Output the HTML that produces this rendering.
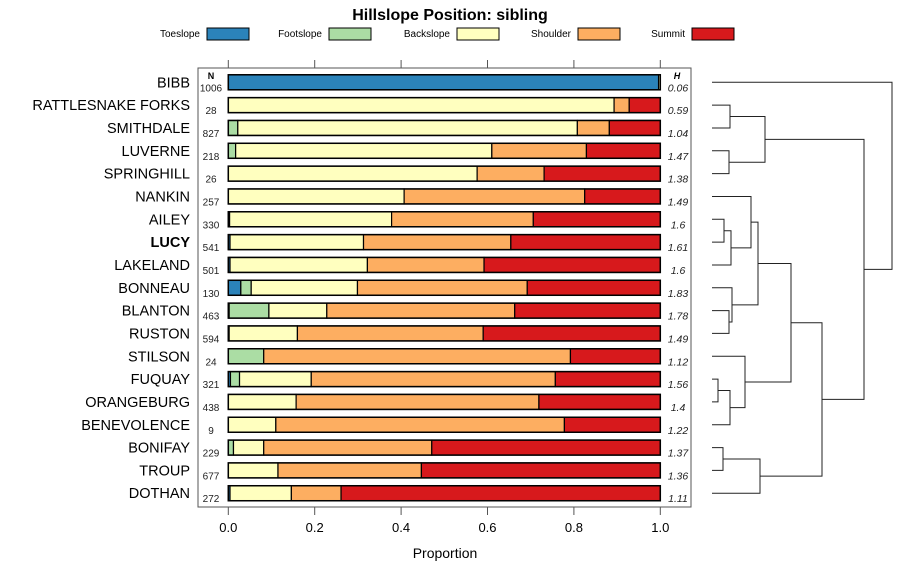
<!DOCTYPE html>
<html><head><meta charset="utf-8">
<style>
body{margin:0;background:#fff;}
svg{display:block;font-family:"Liberation Sans",Arial,sans-serif;}
</style></head>
<body>
<svg id="chart" width="900" height="580" viewBox="0 0 900 580">
<text x="450" y="20" text-anchor="middle" font-size="16" font-weight="bold">Hillslope Position: sibling</text>
<g id="legend"></g>
<rect x="198" y="68" width="493" height="439" fill="none" stroke="#555" stroke-width="1"/>
<g id="axes"></g>
<g id="bars"></g>
<g id="dendro"></g>
<text x="445" y="558" text-anchor="middle" font-size="14">Proportion</text>
</svg>
<script>
const positions = ["Toeslope","Footslope","Backslope","Shoulder","Summit"];
const colors = ["#2b83ba","#abdda4","#ffffbf","#fdae61","#d7191c"];
const soils = ["BIBB","RATTLESNAKE FORKS","SMITHDALE","LUVERNE","SPRINGHILL","NANKIN","AILEY","LUCY","LAKELAND","BONNEAU","BLANTON","RUSTON","STILSON","FUQUAY","ORANGEBURG","BENEVOLENCE","BONIFAY","TROUP","DOTHAN"];
const nVals = [1006,28,827,218,26,257,330,541,501,130,463,594,24,321,438,9,229,677,272];
const hVals = ["0.06","0.59","1.04","1.47","1.38","1.49","1.6","1.61","1.6","1.83","1.78","1.49","1.12","1.56","1.4","1.22","1.37","1.36","1.11"];
const toeslope  = [0.996,0,0,0,0,0,0.003,0.004,0.004,0.029,0.002,0.002,0,0.005,0,0,0,0,0.004];
const footslope = [0,0,0.022,0.017,0,0,0,0,0,0.024,0.092,0,0.082,0.021,0,0,0.012,0,0];
const backslope = [0.004,0.893,0.786,0.593,0.576,0.407,0.375,0.309,0.318,0.246,0.134,0.158,0,0.166,0.157,0.110,0.070,0.115,0.142];
const shoulder  = [0,0.035,0.074,0.219,0.155,0.418,0.328,0.341,0.270,0.393,0.435,0.430,0.710,0.565,0.562,0.668,0.389,0.332,0.115];
const summit    = [0,0.072,0.118,0.171,0.269,0.175,0.294,0.346,0.408,0.308,0.337,0.410,0.208,0.243,0.281,0.222,0.529,0.553,0.739];
const xTicks = [0,0.2,0.4,0.6,0.8,1.0];
const xTickLabels = ["0.0","0.2","0.4","0.6","0.8","1.0"];
// dendrogram merges: [leftId, rightId, height]; leaf ids 0..18, merged ids 19+
const merges = [
 [1,2,18],[3,4,17],[19,20,53],
 [6,7,12],[22,8,19],[5,23,39],
 [10,11,17],[9,25,20],[24,26,46],
 [13,14,6],[15,28,18],[12,29,33],
 [27,30,79],
 [16,17,11],[18,32,48],
 [31,33,110],[21,34,152],[0,35,180]
];
const NS='http://www.w3.org/2000/svg';
function mk(tag,attrs,parent,txt){const e=document.createElementNS(NS,tag);for(const k in attrs)e.setAttribute(k,attrs[k]);if(txt!==undefined)e.textContent=txt;parent.appendChild(e);return e;}
const X0=228.3, XW=432;
function xs(v){return X0+v*XW;}
function ys(i){return 82.3+i*22.83;}
function hs(h){return 712+h;}

// legend
const lg=document.getElementById('legend');
const legX=[200,322,450,571,685];
positions.forEach((p,i)=>{
  const t=mk('text',{x:legX[i],y:37,'text-anchor':'end','font-size':10},lg,p);
  
  
  const r=mk('rect',{x:legX[i]+7,y:28,width:42,height:12,fill:colors[i],stroke:'#000','stroke-width':1},lg);
  
  
});

// axes
const ax=document.getElementById('axes');
xTicks.forEach((v,i)=>{
  const t1=mk('line',{x1:xs(v),x2:xs(v),y1:60,y2:68,stroke:'#555'},ax);
  
  
  const t2=mk('line',{x1:xs(v),x2:xs(v),y1:507,y2:515,stroke:'#555'},ax);
  
  
  const l=mk('text',{x:xs(v),y:532,'text-anchor':'middle','font-size':13},ax,xTickLabels[i]);
  
  
});

// bars
const bg=document.getElementById('bars');
const series=[toeslope,footslope,backslope,shoulder,summit];
let nh=mk('text',{x:211,y:79,'text-anchor':'middle','font-size':9,'font-weight':'bold'},bg,'N');


let hh=mk('text',{x:677,y:79,'text-anchor':'middle','font-size':9,'font-weight':'bold','font-style':'italic'},bg,'H');


soils.forEach((s,i)=>{
  const y=ys(i);
  const lab=mk('text',{x:190,y:y+5,'text-anchor':'end','font-size':14.5,'font-weight':s==='LUCY'?'bold':'normal'},bg,s);
  
  
  let cum=0;
  series.forEach((ser,k)=>{
    const v=ser[i]; if(v<=0) return;
    const r=mk('rect',{x:xs(cum),y:y-7.5,width:v*XW,height:15,fill:colors[k],stroke:'#000','stroke-width':1.2},bg);
    
    
    cum+=v;
  });
  const o=mk('rect',{x:xs(0),y:y-7.5,width:XW,height:15,fill:'none',stroke:'#000','stroke-width':1.5},bg);
  
  
  const n=mk('text',{x:211,y:y+9,'text-anchor':'middle','font-size':10,fill:'#222'},bg,String(nVals[i]));
  
  
  const h=mk('text',{x:678,y:y+9,'text-anchor':'middle','font-size':10.5,'font-style':'italic',fill:'#222'},bg,hVals[i]);
  
  
});

// dendrogram
const dg=document.getElementById('dendro');
const nodeY={}, nodeH={};
for(let i=0;i<soils.length;i++){nodeY[i]=ys(i);nodeH[i]=0;}
merges.forEach((m,j)=>{
  const id=soils.length+j,[a,b,h]=m;
  const p=mk('path',{d:`M${hs(nodeH[a])},${nodeY[a]}H${hs(h)}V${nodeY[b]}H${hs(nodeH[b])}`,fill:'none',stroke:'#222','stroke-width':1},dg);
  
  
  nodeY[id]=(nodeY[a]+nodeY[b])/2; nodeH[id]=h;
});
</script>
</body></html>
